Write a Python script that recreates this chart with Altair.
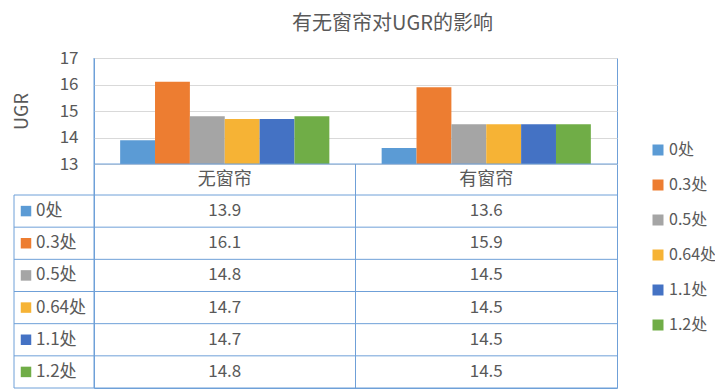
import altair as alt
import pandas as pd

categories = ["无窗帘", "有窗帘"]
series = ["0处", "0.3处", "0.5处", "0.64处", "1.1处", "1.2处"]
values_no_curtain = [13.9, 16.1, 14.8, 14.7, 14.7, 14.8]
values_curtain = [13.6, 15.9, 14.5, 14.5, 14.5, 14.5]
colors = ["#5B9BD5", "#ED7D31", "#A5A5A5", "#F6B335", "#4472C4", "#70AD47"]
y_ticks = [13, 14, 15, 16, 17]

rows = []
for cat, vals in zip(categories, [values_no_curtain, values_curtain]):
    for s, v in zip(series, vals):
        rows.append({"cat": cat, "series": s, "value": v, "label": f"{v:.1f}"})
df = pd.DataFrame(rows)
series_df = pd.DataFrame({"series": series})
cat_df = pd.DataFrame({"cat": categories})

W, H = 523, 330
BAR_H = 106
ROW_TOP = 137
LEFT = -80
TXT = "#595959"
BORDER = "#6FA0D8"
FONT = "Noto Sans CJK SC"

color = alt.Color(
    "series:N",
    scale=alt.Scale(domain=series, range=colors),
    legend=alt.Legend(
        title=None, orient="none", legendX=556, legendY=84,
        symbolType="square", symbolSize=121, symbolStrokeWidth=0,
        labelFontSize=16, labelColor=TXT, rowPadding=19, labelOffset=3,
    ),
)
xcat = alt.X("cat:N", scale=alt.Scale(domain=categories, paddingInner=0, paddingOuter=0), axis=None)
ytab = alt.Y("series:N", scale=alt.Scale(domain=series, range=[ROW_TOP, H], paddingInner=0, paddingOuter=0), axis=None)

bars = alt.Chart(df).mark_bar().encode(
    x=xcat,
    xOffset=alt.XOffset("series:N", scale=alt.Scale(domain=series, paddingInner=0, paddingOuter=0.75)),
    y=alt.Y(
        "value:Q",
        scale=alt.Scale(domain=[13, 17], range=[BAR_H, 0], zero=False, nice=False),
        axis=alt.Axis(
            values=y_ticks, domain=False, ticks=False, grid=True, gridColor="#D9D9D9",
            labelFontSize=17, labelColor=TXT, labelPadding=16,
            title="UGR", titleFontSize=18, titleFontWeight="normal", titleColor=TXT, titlePadding=28,
        ),
    ),
    y2=alt.datum(13),
    color=color,
)

# structural lines of the data table
one = cat_df.head(1)
base_line = alt.Chart(one).mark_rule(color=BORDER, strokeWidth=1).encode(
    x=alt.value(0), x2=alt.value(W), y=alt.value(BAR_H)
)
mid_line = alt.Chart(one).mark_rule(color=BORDER, strokeWidth=1).encode(
    x=alt.value(W / 2), y=alt.value(BAR_H), y2=alt.value(H)
)
left_line = alt.Chart(one).mark_rule(color=BORDER, strokeWidth=1).encode(
    x=alt.value(LEFT), y=alt.value(ROW_TOP), y2=alt.value(H)
)
bottom_line = alt.Chart(one).mark_rule(color=BORDER, strokeWidth=1).encode(
    x=alt.value(LEFT), x2=alt.value(W), y=alt.value(H)
)
label_col_line = alt.Chart(one).mark_rule(color=BORDER, strokeWidth=1).encode(
    x=alt.value(0), y=alt.value(0), y2=alt.value(H)
)
row_lines = alt.Chart(series_df).mark_rule(color=BORDER, strokeWidth=1).encode(
    x=alt.value(LEFT), x2=alt.value(W),
    y=alt.Y("series:N", bandPosition=0, scale=alt.Scale(domain=series, range=[ROW_TOP, H], paddingInner=0, paddingOuter=0), axis=None),
)

header = alt.Chart(cat_df).mark_text(fontSize=18, color=TXT, baseline="middle").encode(
    x=xcat, y=alt.value((BAR_H + ROW_TOP) / 2), text="cat:N"
)

cells = alt.Chart(df).mark_text(fontSize=17, color=TXT, baseline="middle").encode(
    x=xcat, y=ytab, text="label:N"
)

row_squares = alt.Chart(series_df).mark_point(shape="square", filled=True, size=110, opacity=1).encode(
    x=alt.value(LEFT + 12), y=ytab, color=color
)
row_labels = alt.Chart(series_df).mark_text(fontSize=17, color=TXT, align="left", baseline="middle").encode(
    x=alt.value(LEFT + 22), y=ytab, text="series:N"
)

chart = alt.layer(
    bars, base_line, mid_line, left_line, bottom_line, label_col_line, row_lines,
    header, cells, row_squares, row_labels,
).resolve_scale(y="independent").properties(
    width=W, height=H,
    autosize=alt.AutoSizeParams(type="none"),
    padding={"left": 86, "top": 50, "right": 98, "bottom": 1},
    title=alt.Title("有无窗帘对UGR的影响", fontSize=20, color=TXT, fontWeight="normal", dx=37, offset=15),
).configure(font=FONT).configure_view(stroke=BORDER, strokeWidth=1)

chart.save("out.html", embed_options={"renderer": "svg", "actions": False})
